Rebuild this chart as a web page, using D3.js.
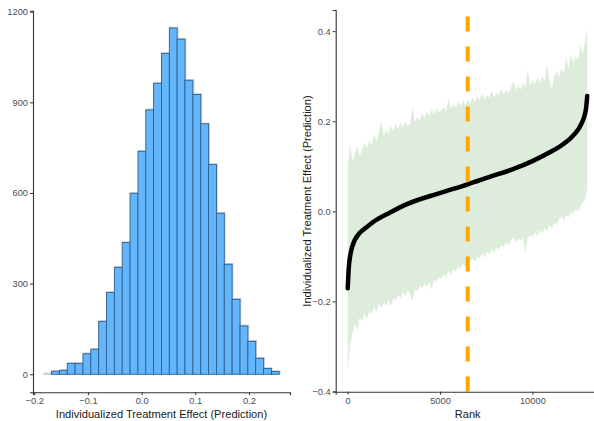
<!DOCTYPE html>
<html>
<head>
<meta charset="utf-8">
<script src="https://cdn.jsdelivr.net/npm/d3@7"></script>
<style>
  html, body { margin: 0; padding: 0; background: #fff; }
  svg { display: block; font-family: "Liberation Sans", Arial, sans-serif; }
</style>
</head>
<body>
<svg id="chart" width="594" height="421"></svg>
<script>
// ---- Histogram of predicted individualized treatment effects ----
const binEdges = [-0.1825, -0.1679, -0.1532, -0.1386, -0.1240, -0.1094, -0.0947, -0.0801,
  -0.0655, -0.0508, -0.0362, -0.0216, -0.0069, 0.0077, 0.0223, 0.0370, 0.0516, 0.0662,
  0.0808, 0.0955, 0.1101, 0.1247, 0.1394, 0.1540, 0.1686, 0.1833, 0.1979, 0.2125,
  0.2272, 0.2418, 0.2564];
const binCounts = [1, 10, 13, 36, 36, 68, 83, 175, 271, 354, 436, 599, 738, 875, 963,
  1062, 1146, 1109, 973, 926, 829, 694, 533, 364, 248, 160, 109, 53, 19, 9];
const histXTicks = [-0.2, -0.1, 0.0, 0.1, 0.2];
const histYTicks = [0, 300, 600, 900, 1200];

// ---- Ranked predictions with their interval band ----
const curveRank = [0, 70, 250, 650, 1000, 1370, 2275, 3180, 4980, 6500, 7690,
  8950, 10030, 10940, 11660, 12200, 12650, 12890, 12970];
const curveValue = [-0.171, -0.12, -0.078, -0.048, -0.036, -0.024, -0.003, 0.0155,
  0.0405, 0.060, 0.0765, 0.0936, 0.112, 0.131, 0.149, 0.168, 0.194, 0.224, 0.256];

// band sampled every 130 ranks (0 ... 12870), plus the last rank 12970
const bandRank = d3.range(0, 12871, 130).concat([12970]);
const bandUpper = [
  0.095, 0.150, 0.112, 0.128, 0.145, 0.122, 0.138, 0.152, 0.140, 0.158,
  0.148, 0.170, 0.155, 0.175, 0.200, 0.168, 0.182, 0.172, 0.190, 0.178,
  0.194, 0.183, 0.196, 0.186, 0.200, 0.190, 0.195, 0.232, 0.198, 0.210,
  0.202, 0.218, 0.208, 0.222, 0.212, 0.226, 0.215, 0.229, 0.220, 0.224,
  0.232, 0.222, 0.250, 0.228, 0.238, 0.230, 0.243, 0.234, 0.246, 0.236,
  0.248, 0.240, 0.252, 0.242, 0.255, 0.246, 0.262, 0.248, 0.258, 0.252,
  0.268, 0.254, 0.264, 0.258, 0.272, 0.260, 0.270, 0.262, 0.275, 0.290,
  0.268, 0.280, 0.270, 0.286, 0.275, 0.315, 0.280, 0.292, 0.282, 0.296,
  0.286, 0.300, 0.288, 0.326, 0.294, 0.270, 0.300, 0.312, 0.298, 0.318,
  0.306, 0.342, 0.318, 0.350, 0.330, 0.345, 0.335, 0.370, 0.350, 0.385,
  0.405];
const bandLower = [
  -0.355, -0.300, -0.270, -0.250, -0.265, -0.235, -0.245, -0.228, -0.238, -0.222,
  -0.228, -0.212, -0.224, -0.206, -0.216, -0.202, -0.210, -0.196, -0.212, -0.193,
  -0.198, -0.186, -0.193, -0.180, -0.188, -0.175, -0.183, -0.200, -0.172, -0.178,
  -0.165, -0.172, -0.160, -0.168, -0.155, -0.175, -0.150, -0.158, -0.145, -0.150,
  -0.140, -0.146, -0.132, -0.140, -0.128, -0.134, -0.122, -0.128, -0.116, -0.124,
  -0.108, -0.116, -0.104, -0.112, -0.100, -0.106, -0.094, -0.102, -0.090, -0.096,
  -0.084, -0.092, -0.080, -0.086, -0.074, -0.080, -0.068, -0.076, -0.064, -0.058,
  -0.070, -0.060, -0.066, -0.058, -0.092, -0.060, -0.052, -0.058, -0.046, -0.054,
  -0.042, -0.050, -0.038, -0.044, -0.030, -0.038, -0.024, -0.030, -0.018, -0.012,
  -0.020, -0.008, -0.014, 0.000, -0.006, 0.006, 0.000, 0.012, 0.020, 0.030,
  0.050];
const medianRank = 6500;
const rankTicks = [0, 5000, 10000];
const effectTicks = [-0.4, -0.2, 0.0, 0.2, 0.4];

const svg = d3.select("#chart");
const tickColor = "#4d4d4d";
const axisColor = "#333333";

function styleAxis(g) {
  g.select(".domain").attr("stroke", axisColor).attr("stroke-width", 1.1);
  g.selectAll(".tick line").attr("stroke", axisColor).attr("stroke-width", 1);
  g.selectAll(".tick text").attr("fill", tickColor).attr("font-size", "9.3px")
    .attr("font-family", "'Liberation Sans', Arial, sans-serif");
}

// ================= Left panel: histogram =================
const hx = d3.scaleLinear().domain([-0.2024, 0.2764]).range([33, 290]);
const hy = d3.scaleLinear().domain([-59.6, 1203.3]).range([392.3, 10.7]);

const bins = binCounts.map((c, i) => ({ x0: binEdges[i], x1: binEdges[i + 1], n: c }));

// faint outline behind the bars
svg.append("g").selectAll("rect").data(bins).join("rect")
  .attr("x", d => hx(d.x0) + 0.8)
  .attr("y", d => hy(d.n) - 0.8)
  .attr("width", d => hx(d.x1) - hx(d.x0))
  .attr("height", d => hy(0) - hy(d.n))
  .attr("fill", "none")
  .attr("stroke", "#c8ccd2")
  .attr("stroke-width", 1);

svg.append("g").selectAll("rect").data(bins).join("rect")
  .attr("x", d => hx(d.x0))
  .attr("y", d => hy(d.n))
  .attr("width", d => hx(d.x1) - hx(d.x0))
  .attr("height", d => hy(0) - hy(d.n))
  .attr("fill", "#63b6fb")
  .attr("stroke", d => d.n < 3 ? "#c8ccd2" : "#2f5f8c")
  .attr("stroke-width", 0.9);

svg.append("g").attr("transform", "translate(0,392.3)")
  .call(d3.axisBottom(hx).tickValues(histXTicks).tickFormat(d3.format(".1f"))
    .tickSizeOuter(0).tickSize(3).tickPadding(2.5))
  .call(styleAxis);

svg.append("g").attr("transform", "translate(33,0)")
  .call(d3.axisLeft(hy).tickValues(histYTicks).tickFormat(d3.format("d"))
    .tickSizeOuter(0).tickSize(3).tickPadding(2))
  .call(styleAxis);

svg.append("text")
  .attr("x", 161.5).attr("y", 418.3)
  .attr("text-anchor", "middle")
  .attr("font-size", "11.1px").attr("fill", "#1a1a1a")
  .text("Individualized Treatment Effect (Prediction)");

// ================= Right panel: ranked effects =================
const rx = d3.scaleLinear().domain([-649, 13629]).range([335.7, 599.4]);
const ry = d3.scaleLinear().domain([-0.4, 0.447]).range([391.5, 10]);

const band = bandRank.map((r, i) => ({ r, lo: bandLower[i], hi: bandUpper[i] }));
svg.append("path")
  .datum(band)
  .attr("d", d3.area()
    .x(d => rx(d.r)).y0(d => ry(d.lo)).y1(d => ry(d.hi)))
  .attr("fill", "#deecdc");

const curve = curveRank.map((r, i) => ({ r, v: curveValue[i] }));
svg.append("path")
  .datum(curve)
  .attr("d", d3.line().curve(d3.curveMonotoneX).x(d => rx(d.r)).y(d => ry(d.v)))
  .attr("fill", "none")
  .attr("stroke", "#000")
  .attr("stroke-width", 4.5)
  .attr("stroke-linecap", "round")
  .attr("stroke-linejoin", "round");

// median rank marker
svg.append("line")
  .attr("x1", rx(medianRank)).attr("x2", rx(medianRank))
  .attr("y1", ry(-0.4)).attr("y2", ry(0.447))
  .attr("stroke", "#ffa500")
  .attr("stroke-width", 4)
  .attr("stroke-dasharray", "15,15");

svg.append("g").attr("transform", "translate(0,391.7)")
  .call(d3.axisBottom(rx).tickValues(rankTicks).tickFormat(d3.format("d"))
    .tickSizeOuter(0).tickSize(3).tickPadding(2.5))
  .call(styleAxis);

svg.append("g").attr("transform", "translate(335.7,0)")
  .call(d3.axisLeft(ry).tickValues(effectTicks).tickFormat(d3.format(".1f"))
    .tickSizeOuter(0).tickSize(3).tickPadding(2))
  .call(styleAxis);

svg.append("text")
  .attr("x", 467.7).attr("y", 418.3)
  .attr("text-anchor", "middle")
  .attr("font-size", "11.1px").attr("fill", "#1a1a1a")
  .text("Rank");

svg.append("text")
  .attr("transform", "translate(310.5,201) rotate(-90)")
  .attr("text-anchor", "middle")
  .attr("font-size", "11.1px").attr("fill", "#1a1a1a")
  .text("Individualized Treatment Effect (Prediction)");
</script>
</body>
</html>
